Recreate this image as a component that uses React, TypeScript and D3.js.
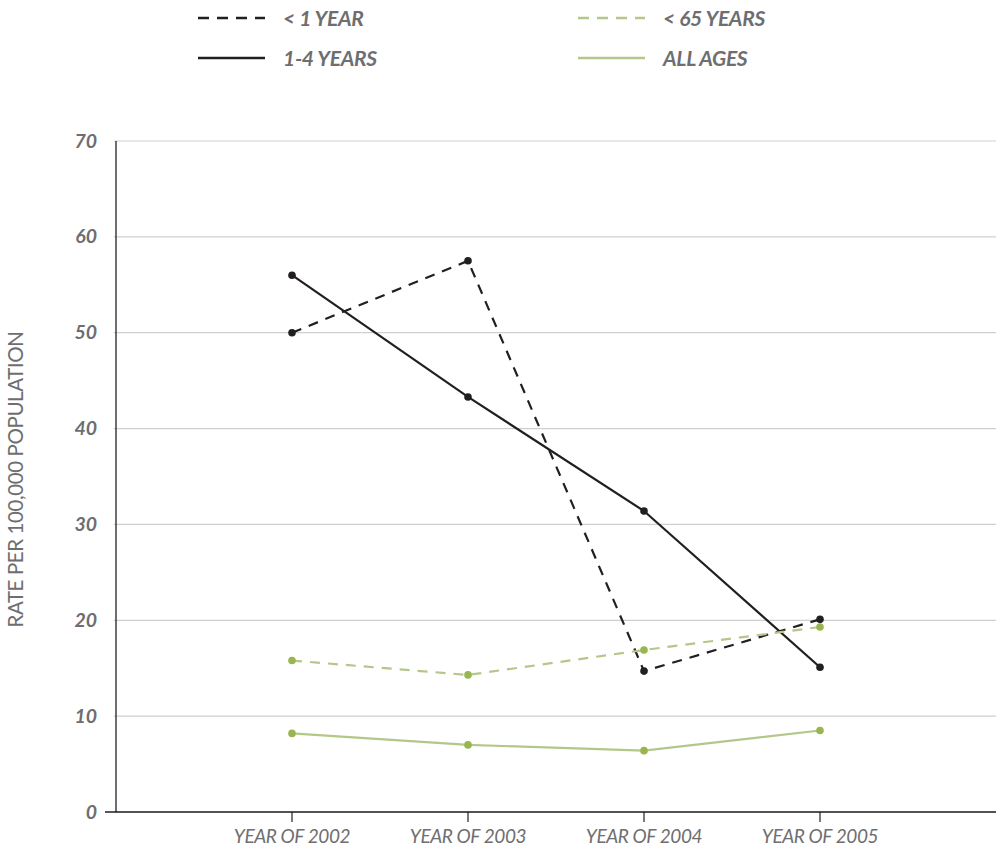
import React from "react";
import * as d3 from "d3";

const categories = ["YEAR OF 2002", "YEAR OF 2003", "YEAR OF 2004", "YEAR OF 2005"];
const under1 = [50.0, 57.5, 14.7, 20.1];
const age1to4 = [56.0, 43.3, 31.4, 15.1];
const under65 = [15.8, 14.3, 16.9, 19.3];
const allAges = [8.2, 7.0, 6.4, 8.5];
const yTicks = [0, 10, 20, 30, 40, 50, 60, 70];

const BLACK = "#231f20";
const GREEN_LINE = "#b4c78a";
const GREEN_DOT = "#99b54f";
const TEXT = "#6e6e70";

const series = [
  { name: "< 1 YEAR", values: under1, color: BLACK, dot: BLACK, dash: "10,8" },
  { name: "1-4 YEARS", values: age1to4, color: BLACK, dot: BLACK, dash: null },
  { name: "< 65 YEARS", values: under65, color: GREEN_LINE, dot: GREEN_DOT, dash: "10,8" },
  { name: "ALL AGES", values: allAges, color: GREEN_LINE, dot: GREEN_DOT, dash: null },
];

export default function App() {
  const W = 996, H = 848;
  const left = 116, right = 996, top = 141, bottom = 812;
  const x = d3.scalePoint<string>().domain(["_a", ...categories, "_b"]).range([left, right]);
  const y = d3.scaleLinear().domain([0, 70]).range([bottom, top]);
  const line = d3.line<number>().x((_, i) => x(categories[i])!).y((d) => y(d));

  const legendPos = [
    { x: 198, y: 18 },
    { x: 198, y: 58 },
    { x: 578, y: 18 },
    { x: 578, y: 58 },
  ];

  return (
    <svg width={W} height={H} style={{ position: "absolute", left: 0, top: 0 }}>
      <rect width={W} height={H} fill="#fff" />
      {yTicks.map((t) => (
        <line key={t} x1={left - 2} x2={right} y1={y(t)} y2={y(t)} stroke="#cfcfcf" strokeWidth={1.2} />
      ))}
      {yTicks.map((t) => (
        <text key={"l" + t} x={97} y={y(t) + 6.5} textAnchor="end" fontFamily="Lato, 'Open Sans', sans-serif"
          fontStyle="italic" fontWeight="bold" fontSize={19.5} fill={TEXT}>{t}</text>
      ))}
      <line x1={left} x2={left} y1={top} y2={bottom} stroke={BLACK} strokeWidth={1.3} />
      <line x1={105} x2={right} y1={bottom} y2={bottom} stroke={BLACK} strokeWidth={1.3} />
      {categories.map((c) => (
        <g key={c}>
          <line x1={x(c)} x2={x(c)} y1={bottom} y2={bottom + 10} stroke={BLACK} strokeWidth={1.2} />
          <text x={x(c)} y={bottom + 31} textAnchor="middle" fontFamily="Lato, sans-serif" fontStyle="italic"
            fontSize={19} fill={TEXT} letterSpacing={-0.4}>{c}</text>
        </g>
      ))}
      <text transform={`translate(23,${(top + bottom) / 2 + 3}) rotate(-90)`} textAnchor="middle"
        fontFamily="Lato, sans-serif" fontSize={20.5} fill={TEXT} letterSpacing={-0.4}>RATE PER 100,000 POPULATION</text>
      {series.map((s) => (
        <g key={s.name}>
          <path d={line(s.values)!} fill="none" stroke={s.color} strokeWidth={2.2}
            strokeDasharray={s.dash ?? undefined} />
          {s.values.map((v, i) => (
            <circle key={i} cx={x(categories[i])} cy={y(v)} r={3.8} fill={s.dot} />
          ))}
        </g>
      ))}
      {series.map((s, i) => (
        <g key={"lg" + s.name}>
          <line x1={legendPos[i].x} x2={legendPos[i].x + 67} y1={legendPos[i].y} y2={legendPos[i].y}
            stroke={s.color} strokeWidth={2.6} strokeDasharray={s.dash ? "11,8" : undefined} />
          <text x={legendPos[i].x + 85} y={legendPos[i].y + 7.5} fontFamily="Lato, sans-serif" fontStyle="italic"
            fontWeight="bold" fontSize={21} fill={TEXT} letterSpacing={-0.3}>{s.name}</text>
        </g>
      ))}
    </svg>
  );
}
